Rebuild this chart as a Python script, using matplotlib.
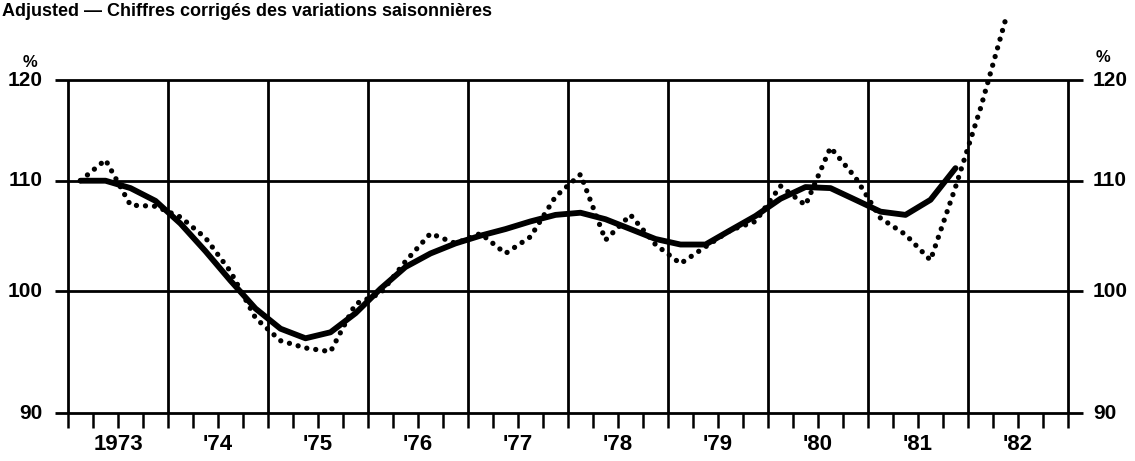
import numpy as np
import matplotlib
matplotlib.use("Agg")
import matplotlib.pyplot as plt
import matplotlib.transforms as mtransforms
from matplotlib.ticker import FixedLocator, NullLocator

plt.rcParams["font.family"] = ["Liberation Sans", "DejaVu Sans"]
plt.rcParams["font.weight"] = "bold"

# quarterly data, 1973 Q1 onwards
actual = [110.0, 112.0, 107.7, 107.6, 106.6, 104.7, 101.7, 97.7,
          95.8, 95.2, 94.9, 98.9, 99.8, 102.6, 105.1, 104.2,
          105.1, 103.3, 104.8, 108.5, 110.6, 104.5, 106.8, 104.1,
          102.4, 103.9, 105.4, 106.2, 109.5, 107.7, 113.2, 110.3,
          106.5, 105.0, 102.7, 109.4, 117.1, 126.4]
trend = [110.0, 110.0, 109.3, 108.1, 106.0, 103.5, 100.9, 98.5,
         96.8, 96.0, 96.5, 98.1, 100.2, 102.1, 103.3, 104.2,
         104.9, 105.5, 106.2, 106.8, 107.0, 106.4, 105.5, 104.6,
         104.1, 104.1, 105.4, 106.7, 108.3, 109.4, 109.3, 108.2,
         107.1, 106.8, 108.2, 111.2]
years = list(range(1973, 1983))
year_labels = ["1973", "'74", "'75", "'76", "'77", "'78", "'79", "'80", "'81", "'82"]
levels = [90, 100, 110, 120]

t_actual = 1973 + (np.arange(len(actual)) + 0.5) / 4
t_trend = 1973 + (np.arange(len(trend)) + 0.5) / 4

fig = plt.figure(figsize=(11.35, 4.61), dpi=100)
ax = fig.add_axes([68 / 1135, 1 - 413 / 461, 1000 / 1135, 333 / 461])
ax.set_yscale("log")
ax.set_xlim(1973, 1983)
ax.set_ylim(90, 120)
for s in ax.spines.values():
    s.set_visible(False)

# grid
ax.hlines(levels, 1973 - 0.13, 1983 + 0.15, color="black", lw=2.0, clip_on=False, zorder=2)
ax.vlines(years + [1983], 90, 120, color="black", lw=2.0, clip_on=False, zorder=2)

# series
ax.plot(t_trend, trend, color="black", lw=4.2, solid_capstyle="round",
        solid_joinstyle="round", zorder=4, clip_on=False)
ax.plot(t_actual, actual, color="black", lw=3.8, linestyle=(0, (0.01, 1.7)),
        dash_capstyle="round", zorder=5, clip_on=False)

# x axis: quarter ticks + year labels
ax.xaxis.remove_overlapping_locs = False
ax.xaxis.set_major_locator(FixedLocator(np.arange(1973, 1983.01, 0.25)))
ax.xaxis.set_minor_locator(FixedLocator(np.array(years) + 0.5))
ax.set_xticklabels([], minor=False)
ax.set_xticklabels(year_labels, minor=True, fontweight="bold")
ax.tick_params(axis="x", which="major", direction="out", length=11, width=1.8)
ax.tick_params(axis="x", which="minor", length=0, pad=15, labelsize=16)

# y labels on both sides, drawn as text
ax.yaxis.set_major_locator(NullLocator())
ax.yaxis.set_minor_locator(NullLocator())
trans = mtransforms.blended_transform_factory(ax.transAxes, ax.transData)
for v in levels:
    ax.text(-0.025, v, f"{v}", transform=trans, ha="right", va="center",
            fontsize=15, fontweight="bold")
    ax.text(1.025, v, f"{v}", transform=trans, ha="left", va="center",
            fontsize=15, fontweight="bold")

fig.text(30 / 1135, 1 - 62 / 461, "%", fontsize=12, fontweight="bold", ha="center", va="center")
fig.text(1103 / 1135, 1 - 57 / 461, "%", fontsize=12, fontweight="bold", ha="center", va="center")
fig.text(2 / 1135, 1 - 12 / 461, "Adjusted — Chiffres corrigés des variations saisonnières",
         fontsize=13, fontweight="bold", ha="left", va="center")

fig.savefig("out.png", dpi=100)
